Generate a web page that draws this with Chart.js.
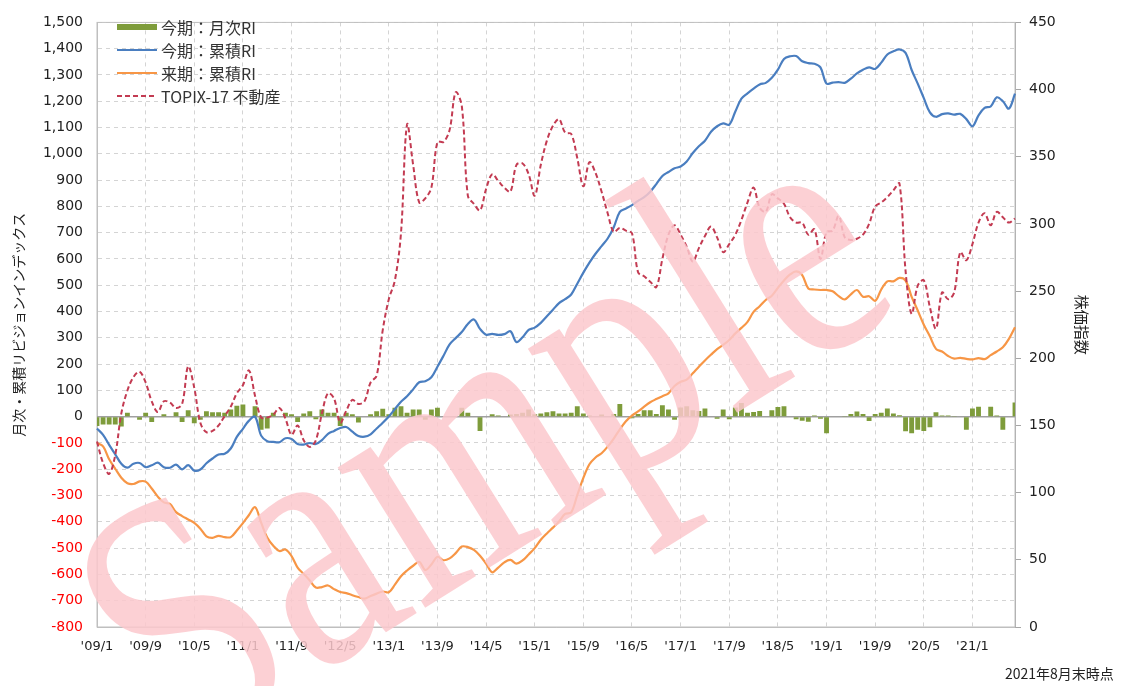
<!DOCTYPE html>
<html lang="ja">
<head>
<meta charset="utf-8">
<title>リビジョンインデックスと株価指数</title>
<script src="https://cdn.jsdelivr.net/npm/chart.js@4.4.1/dist/chart.umd.min.js"></script>
<style>
  html, body { margin: 0; padding: 0; background: #fff; }
  #wrap { position: relative; width: 1122px; height: 686px; overflow: hidden; }
  #legend { position: absolute; left: 117px; top: 15px; font: 16px "Noto Sans CJK JP", sans-serif; color: #333; }
  #legend .item { display: flex; align-items: center; height: 23px; }
  #legend svg { margin-right: 4px; }
  #note { position: absolute; left: 1005px; top: 663px; font: 14px "Noto Sans CJK JP", sans-serif; color: #222; }
  #wm { position: absolute; left: 478px; top: 432px; transform: translate(-50%, -50%) rotate(-32deg) scaleX(0.8);
        font: 360px "Liberation Serif", serif; line-height: 1; white-space: nowrap;
        color: rgba(252, 200, 205, 0.85); pointer-events: none; }
</style>
</head>
<body>
<div id="wrap">
  <canvas id="chart" width="1122" height="686"></canvas>
  <div id="legend"></div>
  <div id="note">2021年8月末時点</div>
  <div id="wm">Sample</div>
</div>
<script>
// month categories, 2009/1 .. 2021/8
const monthLabels = [
  "'09/1","'09/2","'09/3","'09/4","'09/5","'09/6","'09/7","'09/8","'09/9","'09/10","'09/11","'09/12",
  "'10/1","'10/2","'10/3","'10/4","'10/5","'10/6","'10/7","'10/8","'10/9","'10/10","'10/11","'10/12",
  "'11/1","'11/2","'11/3","'11/4","'11/5","'11/6","'11/7","'11/8","'11/9","'11/10","'11/11","'11/12",
  "'12/1","'12/2","'12/3","'12/4","'12/5","'12/6","'12/7","'12/8","'12/9","'12/10","'12/11","'12/12",
  "'13/1","'13/2","'13/3","'13/4","'13/5","'13/6","'13/7","'13/8","'13/9","'13/10","'13/11","'13/12",
  "'14/1","'14/2","'14/3","'14/4","'14/5","'14/6","'14/7","'14/8","'14/9","'14/10","'14/11","'14/12",
  "'15/1","'15/2","'15/3","'15/4","'15/5","'15/6","'15/7","'15/8","'15/9","'15/10","'15/11","'15/12",
  "'16/1","'16/2","'16/3","'16/4","'16/5","'16/6","'16/7","'16/8","'16/9","'16/10","'16/11","'16/12",
  "'17/1","'17/2","'17/3","'17/4","'17/5","'17/6","'17/7","'17/8","'17/9","'17/10","'17/11","'17/12",
  "'18/1","'18/2","'18/3","'18/4","'18/5","'18/6","'18/7","'18/8","'18/9","'18/10","'18/11","'18/12",
  "'19/1","'19/2","'19/3","'19/4","'19/5","'19/6","'19/7","'19/8","'19/9","'19/10","'19/11","'19/12",
  "'20/1","'20/2","'20/3","'20/4","'20/5","'20/6","'20/7","'20/8","'20/9","'20/10","'20/11","'20/12",
  "'21/1","'21/2","'21/3","'21/4","'21/5","'21/6","'21/7","'21/8"
];

const seriesNames = ['今期：月次RI', '今期：累積RI', '来期：累積RI', 'TOPIX-17 不動産'];
const leftAxisTitle = '月次・累積リビジョンインデックス';
const rightAxisTitle = '株価指数';

// 今期：月次RI (bars, left axis)
const curMonthlyRI = [
  -35, -30, -30, -30, -37, 15, 0, -12, 15, -20, 0, 9,
  0, 17, -20, 25, -25, -12, 21, 17, 17, 15, 27, 42,
  46, 0, 40, -50, -45, 15, 0, 15, 9, -20, 12, 21,
  -10, 27, 15, 15, -35, 15, 9, -22, 0, 9, 21, 30,
  9, 34, 40, 15, 27, 27, -12, 27, 34, 0, 0, 0,
  34, 15, 0, -54, 0, 9, 5, 0, 8, 10, 15, 27,
  9, 12, 17, 21, 12, 12, 15, 40, 12, 5, 0, 8,
  0, 10, 48, 0, -6, 10, 25, 25, 10, 44, 27, -12,
  35, 40, 25, 22, 31, 0, -8, 27, -10, 35, 52, 15,
  18, 22, 0, 25, 37, 40, 0, -10, -15, -19, 5, -8,
  -63, 0, 0, 3, 10, 20, 10, -16, 10, 15, 31, 12,
  6, -55, -63, -50, -54, -40, 17, 5, 5, 3, -2, -50,
  31, 38, 0, 38, 5, -50, 0, 54
];

// 今期：累積RI (left axis)
const curCumRI = [
  -45, -69, -107, -143, -179, -194, -179, -176, -192, -185, -175, -192,
  -194, -182, -200, -184, -205, -201, -177, -159, -144, -141, -121, -77,
  -46, -15, 0, -72, -93, -96, -97, -82, -85, -104, -106, -100,
  -104, -89, -65, -54, -43, -39, -57, -73, -76, -67, -45, -23,
  1, 29, 57, 78, 104, 131, 135, 150, 190, 232, 275, 299,
  322, 353, 370, 334, 312, 315, 311, 314, 325, 284, 302, 330,
  339, 357, 382, 407, 432, 447, 465, 506, 548, 586, 620, 649,
  678, 721, 779, 792, 805, 821, 835, 856, 885, 916, 931, 945,
  952, 971, 1003, 1029, 1050, 1084, 1105, 1116, 1111, 1161, 1210, 1230,
  1248, 1264, 1270, 1289, 1320, 1361, 1371, 1372, 1352, 1345, 1343, 1329,
  1267, 1271, 1273, 1270, 1286, 1306, 1320, 1329, 1323, 1347, 1378, 1390,
  1397, 1384, 1319, 1267, 1212, 1158, 1141, 1151, 1154, 1149, 1152, 1132,
  1105, 1146, 1175, 1180, 1215, 1200, 1172, 1229
];

// 来期：累積RI (left axis)
const nextCumRI = [
  -100, -113, -162, -198, -232, -253, -256, -246, -247, -273, -304, -326,
  -332, -363, -378, -391, -404, -426, -455, -461, -453, -458, -458, -433,
  -405, -374, -344, -403, -460, -491, -511, -505, -530, -574, -598, -623,
  -650, -648, -642, -656, -667, -671, -679, -686, -692, -682, -673, -665,
  -668, -639, -607, -585, -567, -552, -583, -562, -533, -546, -539, -519,
  -494, -496, -507, -529, -559, -592, -574, -554, -545, -559, -547, -524,
  -500, -468, -444, -422, -399, -370, -364, -298, -233, -181, -155, -139,
  -114, -83, -48, -17, 4, 20, 38, 55, 67, 78, 89, 117,
  133, 141, 165, 190, 214, 236, 257, 273, 292, 317, 338, 361,
  399, 420, 444, 460, 490, 518, 541, 553, 539, 488, 484, 482,
  482, 477, 459, 446, 465, 482, 456, 458, 441, 484, 515, 515,
  528, 518, 456, 404, 350, 306, 258, 248, 231, 221, 224, 220,
  218, 223, 219, 234, 248, 264, 296, 340
];

// TOPIX-17 不動産 (right axis)
const topixRealEstate = [
  138, 122, 114, 128, 159, 176, 186, 190, 182, 168, 160, 168,
  167, 163, 166, 194, 178, 152, 145, 146, 150, 157, 164, 174,
  180, 191, 172, 156, 156, 158, 163, 155, 143, 150, 139, 134,
  139, 159, 174, 170, 152, 161, 169, 166, 168, 182, 187, 221,
  244, 258, 293, 374, 344, 316, 319, 327, 361, 361, 370, 398,
  388, 321, 315, 310, 326, 337, 332, 327, 324, 344, 345, 337,
  321, 344, 362, 373, 378, 368, 367, 349, 328, 346, 338, 324,
  308, 294, 297, 295, 293, 264, 261, 257, 253, 274, 292, 299,
  292, 283, 272, 282, 291, 298, 290, 279, 285, 292, 303, 316,
  327, 312, 309, 322, 319, 315, 305, 301, 301, 292, 296, 274,
  294, 295, 306, 290, 288, 289, 292, 300, 313, 316, 320, 325,
  330, 265, 233, 254, 258, 238, 222, 249, 244, 249, 279, 273,
  285, 301, 308, 299, 309, 305, 301, 304
];

const GREEN = '#7E9C3B', BLUE = '#4A7EC0', ORANGE = '#F79646', RED = '#C33B52';

// legend (drawn as html, top-left inside the plot)
const legendEl = document.getElementById('legend');
const swatches = [
  '<rect x="0" y="2" width="40" height="6" fill="' + GREEN + '"/>',
  '<line x1="0" y1="5" x2="40" y2="5" stroke="' + BLUE + '" stroke-width="2"/>',
  '<line x1="0" y1="5" x2="40" y2="5" stroke="' + ORANGE + '" stroke-width="2"/>',
  '<line x1="0" y1="5" x2="40" y2="5" stroke="' + RED + '" stroke-width="2" stroke-dasharray="5 3"/>'
];
seriesNames.forEach(function(name, i) {
  const row = document.createElement('div');
  row.className = 'item';
  row.innerHTML = '<svg width="40" height="10">' + swatches[i] + '</svg><span>' + name + '</span>';
  legendEl.appendChild(row);
});

// zero line + plot frame
const framePlugin = {
  id: 'frame',
  beforeDatasetsDraw(chart) {
    const { ctx, chartArea: a, scales } = chart;
    const y0 = scales.y.getPixelForValue(0);
    ctx.save();
    ctx.strokeStyle = '#BFBFBF';
    ctx.lineWidth = 1;
    ctx.strokeRect(a.left, a.top, a.right - a.left, a.bottom - a.top);
    ctx.strokeStyle = '#A0A0A0';
    ctx.lineWidth = 1.5;
    ctx.beginPath();
    ctx.moveTo(a.left, y0);
    ctx.lineTo(a.right, y0);
    ctx.stroke();
    ctx.restore();
  }
};

Chart.defaults.font.family = '"DejaVu Sans", sans-serif';
Chart.defaults.color = '#222';

new Chart(document.getElementById('chart'), {
  type: 'bar',
  data: {
    labels: monthLabels,
    datasets: [
      {
        type: 'bar', label: seriesNames[0], data: curMonthlyRI, yAxisID: 'y',
        backgroundColor: GREEN, barPercentage: 0.8, categoryPercentage: 1.0, order: 4
      },
      {
        type: 'line', label: seriesNames[1], data: curCumRI, yAxisID: 'y',
        borderColor: BLUE, borderWidth: 2.2, pointRadius: 0, tension: 0.35, order: 3
      },
      {
        type: 'line', label: seriesNames[2], data: nextCumRI, yAxisID: 'y',
        borderColor: ORANGE, borderWidth: 2.2, pointRadius: 0, tension: 0.35, order: 2
      },
      {
        type: 'line', label: seriesNames[3], data: topixRealEstate, yAxisID: 'yRight',
        borderColor: RED, borderWidth: 2, borderDash: [5, 3], pointRadius: 0, tension: 0.35, order: 1
      }
    ]
  },
  options: {
    responsive: false,
    animation: false,
    layout: { padding: { top: 14, left: 0, right: 0, bottom: 0 } },
    plugins: {
      legend: { display: false },
      tooltip: { enabled: false }
    },
    scales: {
      x: {
        offset: false,
        grid: {
          offset: false,
          drawTicks: false,
          color: c => (c.index > 0 && c.index % 8 === 0) ? '#D4D4D4' : 'rgba(0,0,0,0)'
        },
        border: { color: '#BFBFBF', dash: [4, 4] },
        ticks: {
          autoSkip: false, maxRotation: 0, minRotation: 0, padding: 12,
          font: { size: 13 },
          callback: function(v, i) { return i % 8 === 0 ? this.getLabelForValue(v) : ''; }
        },
        afterFit: s => { s.height = 59; }
      },
      y: {
        position: 'left', min: -800, max: 1500,
        ticks: {
          stepSize: 100, padding: 14, font: { size: 14 },
          color: c => c.tick.value < 0 ? '#FF0000' : '#222',
          callback: v => v.toLocaleString('en-US')
        },
        grid: {
          drawTicks: false,
          color: c => c.tick.value === 0 ? 'rgba(0,0,0,0)' : '#D4D4D4'
        },
        border: { color: '#BFBFBF', dash: [4, 4] },
        title: {
          display: true, text: leftAxisTitle, color: '#222',
          font: { family: '"Noto Sans CJK JP", sans-serif', size: 14 },
          padding: { top: 10, bottom: 0 }
        },
        afterFit: s => { s.width = 97; }
      },
      yRight: {
        position: 'right', min: 0, max: 450,
        ticks: { stepSize: 50, padding: 8, font: { size: 14 } },
        grid: { drawOnChartArea: false, drawTicks: true, tickLength: 6, color: '#A6A6A6' },
        border: { color: '#A6A6A6' },
        title: {
          display: true, text: rightAxisTitle, color: '#222',
          font: { family: '"Noto Sans CJK JP", sans-serif', size: 15 },
          padding: { top: 31, bottom: 0 }
        },
        afterFit: s => { s.width = 107; }
      }
    }
  },
  plugins: [framePlugin]
});
</script>
</body>
</html>
